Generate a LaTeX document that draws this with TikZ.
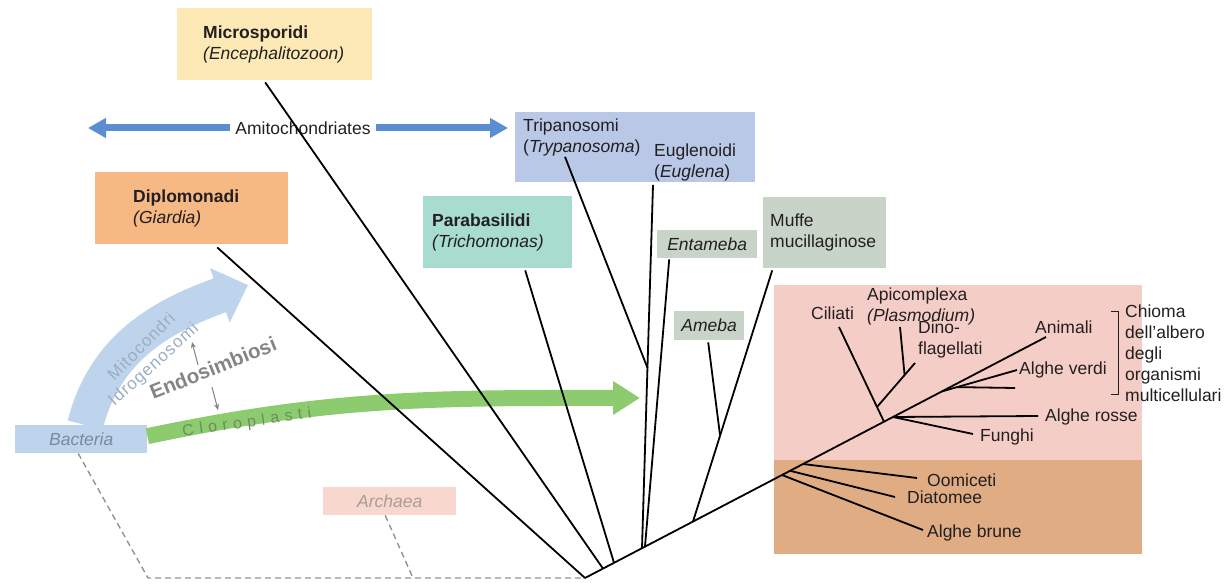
\documentclass[tikz,border=0pt]{standalone}
\usepackage{fontspec}
\setmainfont{Liberation Sans}
\newfontfamily\spacedfont[LetterSpace=34]{Liberation Sans}
\newfontfamily\mitofont[LetterSpace=6]{Liberation Sans}
\usetikzlibrary{arrows.meta}
\newcommand{\taxfont}{\fontsize{17.5}{21}\selectfont}
\definecolor{microcol}{HTML}{FCE9B5}
\definecolor{diplocol}{HTML}{F6B983}
\definecolor{trypcol}{HTML}{B9C8E7}
\definecolor{parabcol}{HTML}{A8DCCF}
\definecolor{amoebcol}{HTML}{C8D4C7}
\definecolor{pinkcol}{HTML}{F5CDC7}
\definecolor{browncol}{HTML}{DFAC83}
\definecolor{bactcol}{HTML}{BED4EC}
\definecolor{archcol}{HTML}{F8D7CF}
\definecolor{amitocol}{HTML}{5A8DD2}
\definecolor{chlorocol}{HTML}{8CCB6E}
\definecolor{labelcol}{HTML}{231F20}
\definecolor{bacttext}{HTML}{7C8A9E}
\definecolor{archtext}{HTML}{AA9C98}
\definecolor{mitotext}{HTML}{9DADC0}
\definecolor{clorotext}{HTML}{6E8C62}
\definecolor{endotext}{HTML}{858585}
\tikzstyle{taxbox} = [anchor=north west, inner ysep=0pt, align=left, font=\taxfont, text=labelcol]
\tikzstyle{lbl} = [anchor=base west, inner sep=0pt, align=left, font=\taxfont, text=labelcol]
\tikzstyle{branch} = [draw=black, line width=1.8pt]
\tikzstyle{outgroup} = [draw=gray!85, line width=1.4pt, dash pattern=on 6pt off 4pt]
\tikzstyle{amito} = [draw=amitocol, line width=7pt, -{Triangle[length=18pt,width=19pt]}]
\tikzstyle{mito} = [draw=bactcol, line width=36pt, -{Triangle[length=30pt,width=56pt]}]
\tikzstyle{chloro} = [draw=chlorocol, line width=16pt, -{Triangle[length=27pt,width=32pt]}]
\tikzstyle{endoarr} = [draw=gray, line width=1pt, -{Stealth[length=6pt,width=5pt]}]

\begin{document}
\begin{tikzpicture}[x=1pt,y=1pt]
    \useasboundingbox (0,0) rectangle (1232,584);
    % crown background
    \fill[pinkcol] (774,124) rectangle (1142,299);
    \fill[browncol] (774,30) rectangle (1142,124);

    % outgroups
    \node[taxbox, fill=bactcol, text width=124pt, inner xsep=4pt, minimum height=28pt, align=center, text=bacttext] (bact) at (15,159) {\textit{Bacteria}};
    \node[taxbox, fill=archcol, text width=125pt, inner xsep=4pt, minimum height=28pt, align=center, text=archtext] (arch) at (323,97) {\textit{Archaea}};

    % endosymbiosis arrows
    \coordinate (mitotip) at (248,299);
    \coordinate (chlorotip) at (640,186);
    \draw[mito] ([xshift=4pt]bact.north) to[out=76,in=200] (mitotip);
    \draw[chloro] ([yshift=3pt]bact.east) to[out=12,in=180] (chlorotip);
    \node[font=\mitofont\fontsize{17}{19}\selectfont, text=mitotext, rotate=45] (mitoc) at (141,238) {Mitocondri};
    \node[font=\mitofont\fontsize{17}{19}\selectfont, text=mitotext, rotate=42] (idro) at (154,219) {Idrogenosomi};
    \node[font=\spacedfont\fontsize{16}{18}\selectfont, text=clorotext, rotate=8] (cloro) at (247,161) {Cloroplasti};
    \node[font=\bfseries\fontsize{20.5}{24}\selectfont, text=endotext, rotate=22] (endo) at (213,216) {Endosimbiosi};
    \coordinate (upa) at (198,219);
    \coordinate (upb) at (192,242);
    \coordinate (dna) at (212,197);
    \coordinate (dnb) at (218,174);
    \draw[endoarr] (upa) -- (upb);
    \draw[endoarr] (dna) -- (dnb);

    % amitochondriates
    \node[lbl, anchor=center, inner xsep=5pt] (amit) at (303,456) {Amitochondriates};
    \coordinate (amitL) at (88,456);
    \coordinate (amitR) at (508,456);
    \draw[amito] (amit.west) -- (amitL);
    \draw[amito] (amit.east) -- (amitR);

    % taxon boxes
    \node[taxbox, fill=microcol, text width=143pt, inner xsep=26pt, minimum height=72pt] (micro) at (177,576) {\textbf{Microsporidi}\\\textit{(Encephalitozoon)}};
    \node[taxbox, fill=diplocol, text width=117pt, inner xsep=38pt, minimum height=72pt] (diplo) at (95,412) {\textbf{Diplomonadi}\\\textit{(Giardia)}};
    \node[taxbox, fill=trypcol, minimum width=240pt, minimum height=70pt] (trypbox) at (515,472) {};
    \node[taxbox, fill=parabcol, text width=131pt, inner xsep=9pt, minimum height=72pt] (parab) at (423,388) {\textbf{Parabasilidi}\\\textit{(Trichomonas)}};
    \node[taxbox, fill=amoebcol, text width=92pt, inner xsep=4pt, minimum height=28pt, align=center] (entam) at (657,354) {\textit{Entameba}};
    \node[taxbox, fill=amoebcol, text width=109pt, inner xsep=7pt, minimum height=71pt] (muffe) at (763,387) {Muffe\\mucillaginose};
    \node[taxbox, fill=amoebcol, text width=62pt, inner xsep=4pt, minimum height=29pt, align=center] (ameba) at (674,273) {\textit{Ameba}};
    \node[lbl] (tryp) at (523,431) {Tripanosomi\\(\textit{Trypanosoma})};
    \node[lbl] (eugl) at (654,406) {Euglenoidi\\(\textit{Euglena})};

    % crown labels
    \node[lbl] (cil) at (811,264) {Ciliati};
    \node[lbl] (apic) at (867,262) {Apicomplexa\\\textit{(Plasmodium)}};
    \node[lbl] (dino) at (918,229) {Dino-\\flagellati};
    \node[lbl] (anim) at (1035,250) {Animali};
    \node[lbl] (verdi) at (1019,209) {Alghe verdi};
    \node[lbl] (rosse) at (1045,162) {Alghe rosse};
    \node[lbl] (funghi) at (980,142) {Funghi};
    \node[lbl] (oomi) at (927,97) {Oomiceti};
    \node[lbl] (diat) at (907,81) {Diatomee};
    \node[lbl] (brune) at (927,46) {Alghe brune};
    \node[lbl] (chioma) at (1125,182) {Chioma\\dell’albero\\degli\\organismi\\multicellulari};
    \draw[labelcol, line width=1pt] (1111,272) -- (1118,272) -- (1118,189) -- (1111,189);

    % tree
    \coordinate (root) at (585,6);
    \coordinate (jmic) at (603,15.4);
    \coordinate (jpar) at (614,21.2);
    \coordinate (jeug) at (642,35.8);
    \coordinate (jent) at (645,37.4);
    \coordinate (jmuf) at (693,62.5);
    \coordinate (jtry) at (647.5,216);
    \coordinate (jame) at (720,149);
    \coordinate (jbrune) at (782,109);
    \coordinate (jdiat) at (790,113.2);
    \coordinate (joomi) at (803,120);
    \coordinate (jcil) at (884,162.3);
    \coordinate (japi) at (877,177);
    \coordinate (japi2) at (904.6,209);
    \coordinate (jrosse) at (893,167);
    \coordinate (jverdi) at (942,192.6);
    \coordinate (jverdi2) at (957,196.9);
    \coordinate (tanim) at (1046,247);
    \coordinate (tbrune) at (923,54);
    \coordinate (tdiat) at (895,87);
    \coordinate (toomi) at (917,106);
    \coordinate (tcil) at (839,257);
    \coordinate (tdino) at (915,221);
    \coordinate (tapi) at (900,257);
    \coordinate (trosse) at (1038,168);
    \coordinate (tfunghi) at (973,150);
    \coordinate (tverdi) at (1017,214);
    \coordinate (tverdi2) at (1015,196);
    \coordinate (dcorner) at (148,6);
    \coordinate (darch) at (413,6);

    \draw[outgroup] ([xshift=-3pt]bact.south) -- (dcorner) -- (root);
    \draw[outgroup] ([xshift=-4.5pt]arch.south) -- (darch);
    \draw[branch] (root) -- (tanim);
    \draw[branch] ([xshift=25.5pt,yshift=-3pt]diplo.south) -- (root);
    \draw[branch] ([xshift=-9.5pt,yshift=-2pt]micro.south) -- (jmic);
    \draw[branch] ([xshift=27.5pt,yshift=-2pt]parab.south) -- (jpar);
    \draw[branch] ([xshift=42pt]tryp.south west) -- (jtry);
    \draw[branch] ([xshift=-1pt,yshift=-3pt]eugl.south west) -- (jeug);
    \draw[branch] ([xshift=-38pt,yshift=-1pt]entam.south) -- (jent);
    \draw[branch] ([xshift=-52.5pt,yshift=-2pt]muffe.south) -- (jmuf);
    \draw[branch] ([xshift=-1pt,yshift=-2pt]ameba.south) -- (jame);
    \draw[branch] (jbrune) -- (tbrune);
    \draw[branch] (jdiat) -- (tdiat);
    \draw[branch] (joomi) -- (toomi);
    \draw[branch] (jcil) -- (tcil);
    \draw[branch] (japi) -- (tdino);
    \draw[branch] (japi2) -- (tapi);
    \draw[branch] (jrosse) -- (trosse);
    \draw[branch] (jrosse) -- (tfunghi);
    \draw[branch] (jverdi) -- (tverdi);
    \draw[branch] (jverdi2) -- (tverdi2);
  \end{tikzpicture}
\end{document}
